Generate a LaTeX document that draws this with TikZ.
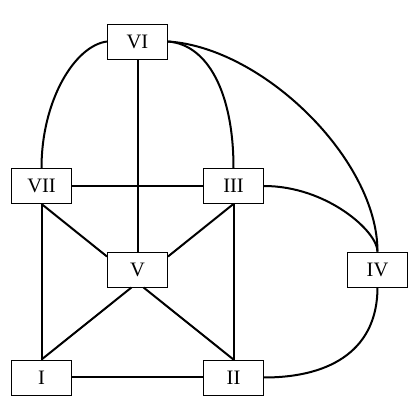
\documentclass[tikz,border=0pt]{standalone}
\usepackage{fontspec}
\setmainfont{Liberation Serif}
\begin{document}
\begin{tikzpicture}[x=1pt,y=-1pt,
  box/.style={draw,line width=0.9pt,minimum width=60pt,minimum height=35pt,inner sep=0pt,
    font=\fontsize{20.5}{24}\selectfont},
  edge/.style={line width=2pt}]
\useasboundingbox (0,0) rectangle (416,414);
\node[box] (VI)  at (137.5,41.5) {VI};
\node[box] (VII) at (41.5,186) {VII};
\node[box] (III) at (233.5,186) {III};
\node[box] (V)   at (137.5,269.5) {V};
\node[box] (IV)  at (377.5,269.5) {IV};
\node[box] (I)   at (41.5,377.5) {I};
\node[box] (II)  at (233.5,377.5) {II};
\draw[edge] (VI.south) -- (V.north);
\draw[edge] (VII.east) -- (III.west);
\draw[edge] (VII.south) -- (I.north);
\draw[edge] (III.south) -- (II.north);
\draw[edge] (I.east) -- (II.west);
\draw[edge] (VII.south) -- ([yshift=-5]V.north west);
\draw[edge] (III.south) -- ([yshift=-5]V.north east);
\draw[edge] (I.north) -- ([xshift=-6]V.south);
\draw[edge] (II.north) -- ([xshift=6]V.south);
\draw[edge] (VI.west) .. controls +(-32,4) and +(0,-68) .. (VII.north);
\draw[edge] (VI.east) .. controls +(40,3) and +(0,-75) .. (III.north);
\draw[edge] (VI.east) .. controls +(95,6) and +(0,-92) .. (IV.north);
\draw[edge] (III.east) .. controls +(63,0) and +(0,-20) .. (IV.north);
\draw[edge] (IV.south) .. controls +(0,60) and +(70,0) .. (II.east);
\end{tikzpicture}
\end{document}
